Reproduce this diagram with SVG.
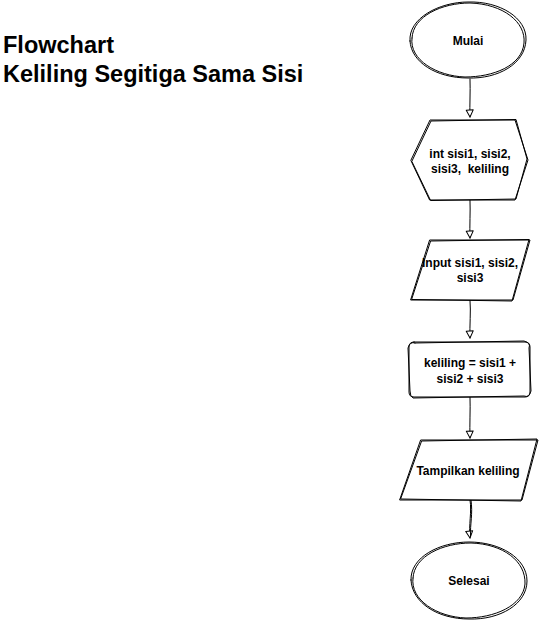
<svg xmlns="http://www.w3.org/2000/svg" width="541" height="621" viewBox="0 0 541 621">
<style>
.s{fill:none;stroke:#000;stroke-width:1;stroke-linejoin:round;stroke-linecap:round}
.bg{fill:#fff;stroke:none}
.t{font-family:"Liberation Sans",Arial,sans-serif;font-size:12px;font-weight:bold;fill:#000;text-anchor:middle;white-space:pre}
.title{font-family:"Liberation Sans",Arial,sans-serif;font-size:23.5px;font-weight:bold;fill:#000}
</style>
<defs>
<marker id="ah" markerWidth="10" markerHeight="10" refX="8" refY="5" orient="auto" markerUnits="userSpaceOnUse">
<path d="M1,1.5 L8,5 L1,8.5 Z" fill="#fff" stroke="#000" stroke-width="1" stroke-linejoin="round"/>
</marker>
</defs>
<rect width="541" height="621" fill="#fff"/>
<g id="title">
<text class="title" x="3" y="53">Flowchart</text>
<text class="title" x="3" y="82">Keliling Segitiga Sama Sisi</text>
</g>
<g id="connectors">
<path class="s" d="M470,79 C470.5,92 469.5,104 470,117" marker-end="url(#ah)"/>
<path class="s" d="M470,200 C470.5,212 469.5,225 470,238" marker-end="url(#ah)"/>
<path class="s" d="M470,300 C471,312 469.5,325 470,338" marker-end="url(#ah)"/>
<path class="s" d="M470,397 C470.5,410 469.5,424 470,438" marker-end="url(#ah)"/>
<path class="s" d="M470,500 C472,512 468.5,525 470,538" marker-end="url(#ah)"/>
<path class="s" d="M471,500 C473,514 470,524 470.5,536"/>
</g>
<g id="mulai">
<ellipse class="bg" cx="468" cy="40" rx="58" ry="38"/>
<path class="s" d="M410,41 C408,18 440,2 468,2 C500,1 527,18 526,40 C525,64 498,79 468,78 C436,78 411,62 410,41 Z"/>
<path class="s" d="M412,38 C413,16 442,3 470,3 C503,4 526,22 524,43 C522,66 493,77 465,77 C437,76 409,60 412,38"/>
<text class="t" x="468" y="45">Mulai</text>
</g>
<g id="deklarasi">
<path class="bg" d="M411,160 L430,120 L515,120 L528,160 L515,200 L430,200 Z"/>
<path class="s" d="M411,160 L430,120 L515,120 L528,160 L515,200 L430,200 Z"/>
<path class="s" d="M412,161 L431,121 L516,119.5 L527,159 L516,199 L431,200.5 Z"/>
<text class="t" x="470" y="158" xml:space="preserve">int sisi1, sisi2,</text>
<text class="t" x="470" y="173" xml:space="preserve">sisi3,  keliling</text>
</g>
<g id="input">
<path class="bg" d="M430,240 L530,240 L513,300 L411,300 Z"/>
<path class="s" d="M430,240 L530,240 L513,300 L411,300 Z"/>
<path class="s" d="M431,241 L529,239.5 L512,301 L412,299.5 Z"/>
<text class="t" x="470" y="267">Input sisi1, sisi2,</text>
<text class="t" x="470" y="282">sisi3</text>
</g>
<g id="proses">
<rect class="bg" x="409" y="342" width="121" height="55" rx="5"/>
<path class="s" d="M414,342 L525,342 Q530,342 530,347 L530,392 Q530,397 525,397 L414,397 Q409,397 409,392 L409,347 Q409,342 414,342 Z"/>
<path class="s" d="M415,343 L524,341 Q531,343 529,348 L531,391 Q529,398 524,396 L413,398 Q410,396 410,391 L408,348 Q410,341 415,343"/>
<text class="t" x="470" y="367">keliling = sisi1 +</text>
<text class="t" x="470" y="383">sisi2 + sisi3</text>
</g>
<g id="output">
<path class="bg" d="M421,440 L538,440 L522,500 L400,500 Z"/>
<path class="s" d="M421,440 L538,440 L522,500 L400,500 Z"/>
<path class="s" d="M422,441 L537,439 L521,501 L401,499 Z"/>
<text class="t" x="468" y="475">Tampilkan keliling</text>
</g>
<g id="selesai">
<ellipse class="bg" cx="469" cy="581" rx="58" ry="39"/>
<path class="s" d="M411,580 C410,557 440,542 469,542 C500,542 527,558 527,581 C527,604 500,620 469,619 C438,619 412,603 411,580 Z"/>
<path class="s" d="M413,578 C414,556 443,543 471,543 C503,544 526,561 525,584 C523,606 494,618 466,618 C437,617 410,600 413,578"/>
<text class="t" x="469" y="585">Selesai</text>
</g>
</svg>
